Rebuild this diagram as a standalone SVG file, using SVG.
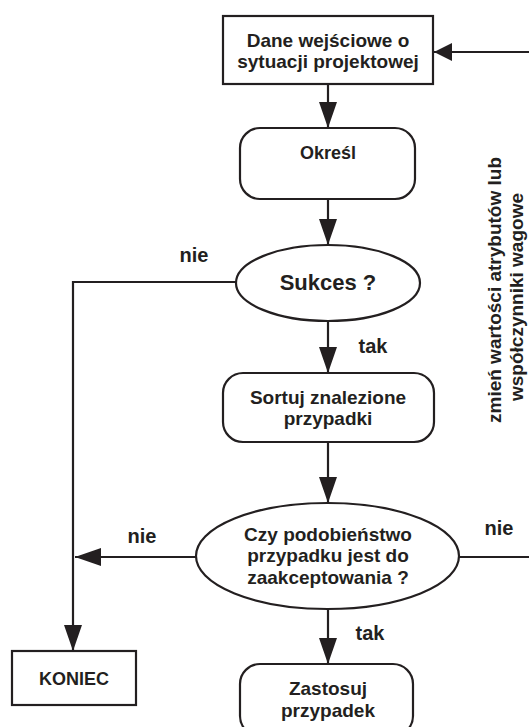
<svg xmlns="http://www.w3.org/2000/svg" width="529" height="727" viewBox="0 0 529 727">
<style>
.s{fill:#fff;stroke:#231f20;stroke-width:2.2}
.c{fill:none;stroke:#231f20;stroke-width:2.2}
text{font-family:"Liberation Sans",Arial,sans-serif;font-weight:bold;fill:#231f20;text-anchor:middle}
.t19{font-size:19px}
.t18{font-size:18px}
.t22{font-size:22px}
.t20{font-size:20px}
</style>
<defs>
<marker id="ah" markerUnits="userSpaceOnUse" markerWidth="26" markerHeight="18" refX="26" refY="9" orient="auto">
<path d="M0,0 L26,9 L0,18 z" fill="#231f20"/>
</marker>
<marker id="ahs" markerUnits="userSpaceOnUse" markerWidth="18" markerHeight="18" refX="18" refY="9" orient="auto">
<path d="M0,0 L18,9 L0,18 z" fill="#231f20"/>
</marker>
</defs>
<g id="connectors">
<line class="c" x1="328" y1="84" x2="328" y2="128" marker-end="url(#ah)"/>
<line class="c" x1="328" y1="199" x2="328" y2="245" marker-end="url(#ah)"/>
<line class="c" x1="328" y1="321" x2="328" y2="373" marker-end="url(#ah)"/>
<line class="c" x1="328" y1="442" x2="328" y2="503" marker-end="url(#ah)"/>
<line class="c" x1="328" y1="609" x2="328" y2="664" marker-end="url(#ah)"/>
<polyline class="c" points="236,282 73,282 73,651" marker-end="url(#ah)"/>
<line class="c" x1="196" y1="557" x2="75" y2="557" marker-end="url(#ah)"/>
<line class="c" x1="459" y1="557" x2="531" y2="557"/>
<line class="c" x1="531" y1="52" x2="434" y2="52" marker-end="url(#ahs)"/>
<text class="t20" x="194" y="262">nie</text>
<text class="t20" x="373" y="353">tak</text>
<text class="t20" x="142" y="543">nie</text>
<text class="t20" x="499" y="535">nie</text>
<text class="t20" x="370" y="640">tak</text>
</g>
<g id="n-dane">
<rect class="s" x="223" y="16" width="210" height="68"/>
<text class="t19" x="328" y="47">Dane wejściowe o</text>
<text class="t19" x="328" y="68">sytuacji projektowej</text>
</g>
<g id="n-okresl">
<rect class="s" x="240" y="128" width="175" height="71" rx="20"/>
<text class="t18" x="328" y="159">Określ</text>
</g>
<g id="n-sukces">
<ellipse class="s" cx="328" cy="283" rx="92" ry="38"/>
<text class="t22" x="328" y="290">Sukces ?</text>
</g>
<g id="n-sortuj">
<rect class="s" x="223" y="373" width="211" height="69" rx="20"/>
<text class="t19" x="328" y="404">Sortuj znalezione</text>
<text class="t19" x="328" y="425">przypadki</text>
</g>
<g id="n-czy">
<ellipse class="s" cx="327.5" cy="556" rx="131.5" ry="53"/>
<text class="t19" x="328" y="541">Czy podobieństwo</text>
<text class="t19" x="328" y="562">przypadku jest do</text>
<text class="t19" x="328" y="584">zaakceptowania ?</text>
</g>
<g id="n-koniec">
<rect class="s" x="12" y="651" width="124" height="54"/>
<text class="t18" x="74" y="685">KONIEC</text>
</g>
<g id="n-zastosuj">
<rect class="s" x="240" y="664" width="173" height="72" rx="20"/>
<text class="t19" x="328" y="695">Zastosuj</text>
<text class="t19" x="328" y="717">przypadek</text>
</g>
<g id="l-zmien">
<text class="t19" transform="translate(501,290) rotate(-90)">zmień wartości atrybutów lub</text>
<text class="t19" transform="translate(523,297) rotate(-90)">współczynniki wagowe</text>
</g>
</svg>
